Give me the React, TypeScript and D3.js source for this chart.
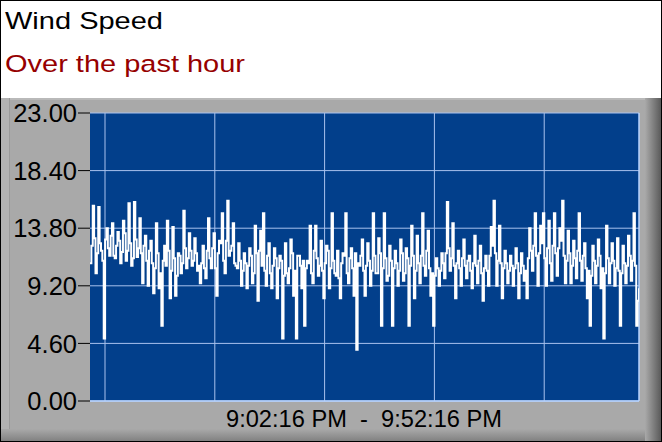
import * as d3 from "d3";

// wind speed readings, one every 7.5 s from 9:02:16 PM
const speeds = [
  11.0, 12.4, 15.6, 13.0, 10.2, 11.8, 15.5, 12.6, 12.0, 11.2, 5.0, 12.9, 13.8, 12.2, 11.6, 13.2, 14.2, 11.6, 11.4, 12.4,
  13.5, 12.8, 11.0, 11.9, 14.4, 13.4, 11.2, 12.0, 15.8, 12.6, 10.8, 11.4, 15.9, 12.9, 11.5, 12.2, 14.6, 11.8, 9.4, 12.4,
  13.2, 11.2, 9.2, 12.0, 12.8, 11.0, 8.6, 10.6, 14.2, 11.8, 9.0, 10.2, 6.0, 11.2, 12.4, 10.8, 14.4, 12.0, 8.2, 10.4,
  13.9, 11.4, 8.4, 10.0, 11.8, 11.6, 10.2, 11.0, 15.2, 12.2, 10.6, 11.4, 13.4, 12.0, 10.8, 11.2, 13.0, 11.8, 10.4, 10.8,
  9.4, 11.0, 12.4, 10.6, 9.8, 12.0, 14.6, 11.4, 10.6, 12.2, 13.4, 10.6, 8.4, 11.8, 12.8, 12.6, 15.0, 11.2, 10.2, 12.8,
  16.0, 11.6, 12.0, 12.4, 14.2, 11.0, 10.8, 10.6, 12.6, 11.2, 9.2, 10.4, 11.8, 11.0, 9.0, 10.8, 12.2, 11.6, 9.4, 10.2,
  14.0, 11.8, 8.0, 12.0, 13.6, 10.8, 15.0, 10.4, 9.2, 11.6, 12.6, 10.2, 9.0, 10.8, 12.2, 11.4, 8.2, 10.6, 11.6, 11.2,
  5.0, 10.0, 12.6, 10.2, 9.4, 10.6, 12.9, 11.8, 8.4, 10.4, 5.0, 11.6, 11.6, 10.8, 9.0, 11.2, 6.0, 10.6, 11.2, 11.0,
  14.0, 10.2, 9.4, 12.0, 14.0, 11.4, 10.0, 10.8, 12.8, 10.4, 8.2, 11.0, 12.4, 12.0, 9.0, 10.6, 15.0, 11.2, 10.2, 10.0,
  12.0, 9.8, 8.2, 11.0, 11.8, 11.6, 15.0, 10.2, 9.4, 11.4, 12.2, 10.6, 8.4, 11.8, 4.1, 11.0, 10.8, 11.6, 12.9, 10.4,
  8.4, 10.8, 12.6, 11.2, 9.2, 10.4, 15.0, 11.6, 10.2, 10.2, 13.0, 11.8, 6.0, 10.6, 15.0, 11.4, 9.6, 10.0, 12.4, 11.2,
  6.0, 10.6, 12.0, 11.0, 9.2, 10.4, 12.9, 11.8, 9.6, 10.2, 12.2, 11.4, 6.0, 10.8, 14.0, 11.6, 8.2, 10.4, 13.2, 11.0,
  9.4, 11.6, 15.0, 10.8, 10.0, 12.0, 13.6, 10.6, 8.4, 10.2, 6.0, 10.0, 11.4, 10.6, 9.2, 10.4, 11.8, 11.0, 9.8, 11.8,
  15.9, 12.2, 10.4, 11.4, 14.2, 10.8, 8.2, 11.0, 12.0, 10.6, 9.2, 11.4, 12.9, 10.8, 9.8, 11.2, 11.6, 10.4, 9.0, 11.0,
  13.2, 10.8, 9.4, 11.2, 12.4, 10.2, 8.0, 10.6, 11.6, 10.4, 9.2, 11.6, 13.9, 12.4, 16.0, 11.8, 9.2, 11.2, 14.0, 11.0,
  8.2, 10.6, 12.0, 11.0, 9.4, 10.4, 11.6, 10.8, 9.2, 10.6, 12.2, 11.0, 8.2, 10.2, 11.8, 10.8, 9.6, 10.4, 8.2, 11.4,
  13.8, 12.0, 10.4, 12.4, 15.0, 11.6, 9.2, 11.8, 14.0, 12.6, 15.0, 11.4, 9.2, 12.2, 14.4, 11.0, 9.6, 12.4, 15.0, 11.8,
  10.0, 12.2, 13.8, 12.8, 16.0, 11.6, 9.4, 11.2, 13.6, 11.8, 9.4, 10.8, 12.8, 11.4, 9.8, 12.0, 15.0, 11.2, 9.6, 11.6,
  12.6, 10.6, 8.2, 10.4, 6.0, 10.0, 12.4, 11.2, 9.4, 10.8, 12.9, 11.6, 9.0, 10.6, 5.0, 10.2, 14.0, 11.4, 9.4, 11.0,
  12.6, 11.2, 9.2, 10.6, 13.0, 10.4, 6.0, 10.2, 12.4, 11.0, 9.4, 10.8, 13.2, 11.6, 9.6, 11.2, 15.0, 10.8, 6.0, 8.0,
  9.0,
];

const startTime = "2024-01-01T21:02:16";
const endTime = "2024-01-01T21:52:16";
const stepMs = 7500;
const yTicks = [0, 4.6, 9.2, 13.8, 18.4, 23];
const gridTimes = ["2024-01-01T21:03:38", "2024-01-01T21:13:38", "2024-01-01T21:23:38", "2024-01-01T21:33:38", "2024-01-01T21:43:38"];

const title = "Wind Speed";
const subtitle = "Over the past hour";
const rangeLabel = "9:02:16 PM  -  9:52:16 PM";

const W = 662;
const H = 442;
const plot = { left: 90, right: 639, top: 113, bottom: 401 };

export default function App() {
  const t0 = new Date(startTime);
  const x = d3.scaleTime().domain([t0, new Date(endTime)]).range([plot.left, plot.right]);
  const y = d3.scaleLinear().domain([0, 23]).range([plot.bottom, plot.top]);

  const points = speeds.map((v, i) => ({ t: new Date(t0.getTime() + i * stepMs), v }));
  const line = d3
    .line<{ t: Date; v: number }>()
    .x((d) => x(d.t))
    .y((d) => y(d.v))
    .curve(d3.curveStepAfter);

  const font = "'Liberation Sans', Arial, sans-serif";

  return (
    <>
      <style>{"body{margin:0}"}</style>
      <svg width={W} height={H} style={{ display: "block" }}>
        <defs>
          <linearGradient id="rEdge" x1="0" x2="1" y1="0" y2="0">
            <stop offset="0" stopColor="#a9a9a9" />
            <stop offset="1" stopColor="#555" />
          </linearGradient>
          <linearGradient id="bEdge" x1="0" x2="0" y1="0" y2="1">
            <stop offset="0" stopColor="#a9a9a9" />
            <stop offset="1" stopColor="#7e7e7e" />
          </linearGradient>
          <clipPath id="plotClip">
            <rect x={plot.left} y={plot.top} width={plot.right - plot.left} height={plot.bottom - plot.top} />
          </clipPath>
        </defs>

        <rect x={0} y={0} width={W} height={H} fill="#fff" />
        <text x={5} y={28.5} fontFamily={font} fontSize={24.5} fill="#000" textLength={158} lengthAdjust="spacingAndGlyphs">
          {title}
        </text>
        <text x={5} y={72} fontFamily={font} fontSize={24.5} fill="#960000" textLength={240} lengthAdjust="spacingAndGlyphs">
          {subtitle}
        </text>

        {/* gray panel with bevels */}
        <rect x={0} y={98} width={W} height={H - 98} fill="#a9a9a9" />
        <rect x={0} y={98} width={W} height={2} fill="#b9b9b9" />
        <rect x={0} y={98} width={9} height={H - 98} fill="#b2b2b2" />
        <rect x={9} y={98} width={1} height={H - 98} fill="#9a9a9a" />
        <rect x={0} y={429} width={W} height={13} fill="url(#bEdge)" />
        <rect x={645} y={98} width={17} height={H - 98} fill="url(#rEdge)" />

        {/* plot area */}
        <rect x={plot.left} y={plot.top} width={plot.right - plot.left} height={plot.bottom - plot.top} fill="#023f8b" />
        {yTicks.map((v) => (
          <line key={"h" + v} x1={plot.left} x2={plot.right} y1={y(v)} y2={y(v)} stroke="#a9c2ee" strokeWidth={1} />
        ))}
        {gridTimes.map((s) => (
          <line key={s} x1={x(new Date(s))} x2={x(new Date(s))} y1={plot.top} y2={plot.bottom} stroke="#a9c2ee" strokeWidth={1} />
        ))}
        <line x1={plot.right} x2={plot.right} y1={plot.top} y2={plot.bottom} stroke="#b8d4ff" strokeWidth={1.5} />
        <line x1={plot.left} x2={plot.right} y1={plot.bottom} y2={plot.bottom} stroke="#b8d4ff" strokeWidth={1.5} />

        <path d={line(points) ?? ""} fill="none" stroke="#fff" strokeWidth={2} strokeLinejoin="miter" clipPath="url(#plotClip)" />

        {/* y axis */}
        {yTicks.map((v) => (
          <g key={"t" + v}>
            <line x1={78} x2={plot.left} y1={y(v)} y2={y(v)} stroke="#000" strokeWidth={1} />
            <text x={77} y={y(v)} dy="0.36em" textAnchor="end" fontFamily={font} fontSize={25.5} fill="#000">
              {v.toFixed(2)}
            </text>
          </g>
        ))}

        <text x={364} y={427} textAnchor="middle" fontFamily={font} fontSize={24.5} fill="#000" style={{ whiteSpace: "pre" }} textLength={276} lengthAdjust="spacingAndGlyphs">
          {rangeLabel}
        </text>

        <rect x={0.5} y={0.5} width={W - 1} height={H - 1} fill="none" stroke="#000" strokeWidth={1} />
      </svg>
    </>
  );
}
